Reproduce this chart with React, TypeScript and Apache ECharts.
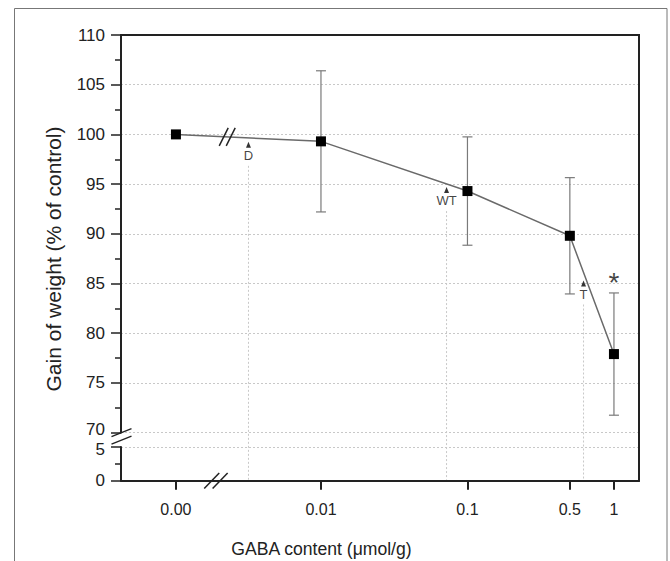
import React, { useEffect, useRef } from 'react';
import * as echarts from 'echarts';

// ---- data ----
const X_LABELS = ['0.00', '0.01', '0.1', '0.5', '1'];
const CONC = [0, 0.01, 0.1, 0.5, 1];
const GAIN = [100, 99.3, 94.3, 89.8, 77.9];
const SD = [0, 7.1, 5.45, 5.85, 6.15];

const Y_TOP_MIN = 70;
const Y_TOP_MAX = 110;
const Y_BOT_MIN = 0;
const Y_BOT_MAX = 5;
const Y_INTERVAL = 5;

const MARK_CONC = [0.0032, 0.072, 0.62];
const MARK_Y = [98.95, 94.4, 85.0];
const MARK_TEXT = ['D', 'WT', 'T'];

const SIG_CONC = [1];
const SIG_Y = [85.1];
const SIG_TEXT = ['*'];

const Y_TITLE = 'Gain of weight (% of control)';
const X_TITLE = 'GABA content (μmol/g)';

// axis layout (log10 positions; 0.00 is drawn left of a break)
const ZERO_POS = -2.99;
const X_MIN = -3.365;
const X_MAX = 0.171;
const X_AXIS_BREAK = -2.717;
const LINE_BREAK = -2.64;

const FONT = 'Liberation Sans, Arial, Helvetica, sans-serif';
const DARK = '#222';

const pos = (c: number) => (c === 0 ? ZERO_POS : Math.log10(c));
const TICK_POS = CONC.map(pos);

export default function App() {
  const ref = useRef<HTMLDivElement>(null);

  useEffect(() => {
    document.body.style.margin = '0';
    if (!ref.current) return;
    const chart = echarts.init(ref.current, null, { renderer: 'svg' });

    const lineData = CONC.map((c, i) => [pos(c), GAIN[i]]);
    const errData = CONC.map((c, i) => [pos(c), GAIN[i] - SD[i], GAIN[i] + SD[i]]).filter((d, i) => SD[i] > 0);
    const markData = MARK_CONC.map((c, i) => ({ value: [pos(c), MARK_Y[i]], name: MARK_TEXT[i] }));
    const sigData = SIG_CONC.map((c, i) => ({ value: [pos(c), SIG_Y[i]], name: SIG_TEXT[i] }));

    const splitLine = { show: true, lineStyle: { color: '#c8c8c8', type: [2, 2] as any, width: 1 } };
    const yLabelBase = { margin: 16, fontSize: 17, color: DARK, fontFamily: FONT };

    chart.setOption({
      animation: false,
      backgroundColor: '#fff',
      textStyle: { fontFamily: FONT },
      grid: [
        { left: 121, width: 518, top: 35, height: 397.6, outerBoundsMode: 'none', containLabel: false },
        { left: 121, width: 518, top: 447, height: 33.7, outerBoundsMode: 'none', containLabel: false },
      ],
      xAxis: [
        {
          type: 'value', gridIndex: 0, min: X_MIN, max: X_MAX, position: 'top',
          axisLine: { show: true, onZero: false, lineStyle: { color: DARK, width: 2 } },
          axisTick: { show: false }, axisLabel: { show: false }, splitLine: { show: false },
        },
        {
          type: 'value', gridIndex: 1, min: X_MIN, max: X_MAX, position: 'bottom',
          axisLine: { show: true, onZero: false, lineStyle: { color: DARK, width: 2 } },
          axisTick: { show: true, length: 9, customValues: TICK_POS, lineStyle: { color: DARK, width: 2 } },
          axisLabel: {
            show: true, customValues: TICK_POS, margin: 21, fontSize: 16, color: DARK, fontFamily: FONT,
            formatter: (v: number) => {
              const i = TICK_POS.findIndex((p) => Math.abs(p - v) < 1e-6);
              return i >= 0 ? X_LABELS[i] : '';
            },
          },
          splitLine: { show: false },
        },
      ],
      yAxis: [
        {
          type: 'value', gridIndex: 0, min: Y_TOP_MIN, max: Y_TOP_MAX, interval: Y_INTERVAL,
          axisLine: { show: true, onZero: false, lineStyle: { color: DARK, width: 2 } },
          axisTick: { show: true, length: 10, lineStyle: { color: DARK, width: 1.5 } },
          minorTick: { show: true, splitNumber: 2, length: 6, lineStyle: { color: DARK, width: 1.5 } },
          axisLabel: {
            ...yLabelBase,
            formatter: (v: number) => (v === Y_TOP_MIN ? `{up|${v}}` : `${v}`),
            rich: { up: { fontSize: 17, color: DARK, fontFamily: FONT, padding: [0, 0, 7, 0] } },
          },
          splitLine,
        },
        {
          type: 'value', gridIndex: 1, min: Y_BOT_MIN, max: Y_BOT_MAX, interval: Y_INTERVAL,
          axisLine: { show: true, onZero: false, lineStyle: { color: DARK, width: 2 } },
          axisTick: { show: true, length: 10, lineStyle: { color: DARK, width: 1.5 } },
          minorTick: { show: true, splitNumber: 2, length: 6, lineStyle: { color: DARK, width: 1.5 } },
          axisLabel: {
            ...yLabelBase,
            formatter: (v: number) => (v === Y_BOT_MAX ? `{down|${v}}` : `${v}`),
            rich: { down: { fontSize: 17, color: DARK, fontFamily: FONT, padding: [5, 0, 0, 0] } },
          },
          splitLine,
        },
      ],
      series: [
        {
          type: 'custom', xAxisIndex: 0, yAxisIndex: 0, z: 2,
          data: errData,
          renderItem: (params: any, api: any) => {
            const x = api.value(0);
            const lo = api.coord([x, api.value(1)]);
            const hi = api.coord([x, api.value(2)]);
            const w = 5;
            const style = { stroke: '#7a7a7a', lineWidth: 1.2 };
            return {
              type: 'group',
              children: [
                { type: 'line', shape: { x1: hi[0], y1: hi[1], x2: lo[0], y2: lo[1] }, style },
                { type: 'line', shape: { x1: hi[0] - w, y1: hi[1], x2: hi[0] + w, y2: hi[1] }, style },
                { type: 'line', shape: { x1: lo[0] - w, y1: lo[1], x2: lo[0] + w, y2: lo[1] }, style },
              ],
            };
          },
        },
        {
          type: 'line', xAxisIndex: 0, yAxisIndex: 0, z: 3,
          data: lineData,
          symbol: 'rect', symbolSize: 10,
          itemStyle: { color: '#000' },
          lineStyle: { color: '#6a6a6a', width: 1.5 },
        },
        {
          type: 'scatter', xAxisIndex: 0, yAxisIndex: 0, z: 4,
          data: markData,
          symbol: 'triangle', symbolSize: [5, 6],
          itemStyle: { color: '#000' },
          label: {
            show: true, position: 'bottom', distance: 1, fontSize: 13, color: '#111', fontFamily: FONT,
            formatter: (p: any) => p.name,
          },
        },
        {
          type: 'scatter', xAxisIndex: 0, yAxisIndex: 0, z: 4,
          data: sigData,
          symbol: 'circle', symbolSize: 1,
          itemStyle: { color: 'rgba(0,0,0,0)' },
          label: {
            show: true, position: 'inside', fontSize: 28, color: '#111', fontFamily: FONT,
            formatter: (p: any) => p.name,
          },
        },
      ],
    });

    const px = (g: number, x: number, y: number) =>
      chart.convertToPixel({ xAxisIndex: g, yAxisIndex: g }, [x, y]) as number[];

    const topLeft = px(0, X_MIN, Y_TOP_MAX);
    const topRight = px(0, X_MAX, Y_TOP_MAX);
    const y70 = px(0, X_MIN, Y_TOP_MIN)[1];
    const botRight = px(1, X_MAX, Y_BOT_MIN);
    const y0 = botRight[1];
    const xLeft = topLeft[0];

    const slash = (cx: number, cy: number, dx: number, dy: number) => ({
      type: 'line', z: 100,
      shape: { x1: cx - dx, y1: cy + dy, x2: cx + dx, y2: cy - dy },
      style: { stroke: DARK, lineWidth: 1.5 },
    });

    const graphics: any[] = [];
    // outer frame
    graphics.push({
      type: 'rect', z: 0, silent: true,
      shape: { x: 14.5, y: 8.5, width: 652.5, height: 600 },
      style: { fill: 'none', stroke: '#777', lineWidth: 1 },
    });
    // right border of plot (continuous)
    graphics.push({
      type: 'line', z: 100,
      shape: { x1: topRight[0], y1: topRight[1] - 1, x2: botRight[0], y2: botRight[1] + 1 },
      style: { stroke: DARK, lineWidth: 2 },
    });
    // y-axis break marks
    graphics.push(slash(xLeft + 0.5, y70, 10, 4));
    graphics.push(slash(xLeft + 0.5, y70 + 7.5, 10, 4));
    // x-axis break marks
    const xb = px(1, X_AXIS_BREAK, 0)[0];
    graphics.push(slash(xb - 4.2, y0, 7.5, 7.8));
    graphics.push(slash(xb + 4.2, y0, 7.5, 7.8));
    // break marks on connecting line
    const p0 = px(0, lineData[0][0], lineData[0][1]);
    const p1 = px(0, lineData[1][0], lineData[1][1]);
    const lx = px(0, LINE_BREAK, 100)[0];
    const ly = p0[1] + ((lx - p0[0]) / (p1[0] - p0[0])) * (p1[1] - p0[1]);
    graphics.push(slash(lx - 3.5, ly, 4.5, 9));
    graphics.push(slash(lx + 3.5, ly, 4.5, 9));
    // drop lines from annotations
    markData.forEach((m) => {
      const p = px(0, m.value[0], m.value[1]);
      graphics.push({
        type: 'line', z: 1, silent: true,
        shape: { x1: p[0], y1: p[1] + 21, x2: p[0], y2: y0 - 1 },
        style: { stroke: '#c8c8c8', lineWidth: 1, lineDash: [2, 2] },
      });
    });
    // axis titles
    graphics.push({
      type: 'text', z: 100, x: 53, y: 259, rotation: Math.PI / 2,
      style: { text: Y_TITLE, fontSize: 21, fontFamily: FONT, fill: DARK, align: 'center', verticalAlign: 'middle' },
    });
    graphics.push({
      type: 'text', z: 100, x: 321.5, y: 549,
      style: { text: X_TITLE, fontSize: 17.6, fontFamily: FONT, fill: DARK, align: 'center', verticalAlign: 'middle' },
    });

    chart.setOption({ graphic: graphics });

    return () => chart.dispose();
  }, []);

  return <div ref={ref} style={{ width: 670, height: 561 }} />;
}
